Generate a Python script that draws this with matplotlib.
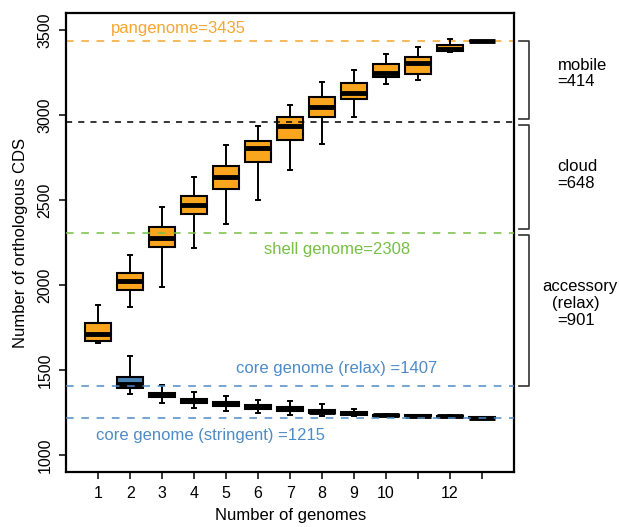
import matplotlib
matplotlib.use("Agg")
import matplotlib.pyplot as plt

plt.rcParams['font.family'] = ['Liberation Sans', 'DejaVu Sans']

# pangenome boxes, 1..13 genomes
pan_pos = [1, 2, 3, 4, 5, 6, 7, 8, 9, 10, 11, 12, 13]
pan_whislo = [1657, 1870, 1990, 2215, 2358, 2498, 2678, 2831, 2989, 3181, 3207, 3373, 3435]
pan_q1 = [1669, 1970, 2221, 2416, 2567, 2725, 2854, 2987, 3093, 3224, 3242, 3377, 3434]
pan_med = [1710, 2023, 2279, 2469, 2635, 2808, 2933, 3050, 3132, 3246, 3308, 3390, 3435]
pan_q3 = [1779, 2072, 2340, 2522, 2698, 2850, 2987, 3103, 3191, 3302, 3343, 3414, 3436]
pan_whishi = [1882, 2178, 2457, 2633, 2821, 2933, 3060, 3195, 3265, 3361, 3398, 3447, 3435]

# core genome boxes, 2..13 genomes
core_pos = [2, 3, 4, 5, 6, 7, 8, 9, 10, 11, 12, 13]
core_whislo = [1356, 1307, 1278, 1260, 1250, 1236, 1231, 1227, 1227, 1223, 1221, 1214]
core_q1 = [1397, 1344, 1307, 1287, 1270, 1256, 1245, 1238, 1232, 1227, 1225, 1216]
core_med = [1415, 1354, 1319, 1298, 1282, 1268, 1255, 1245, 1235, 1230, 1228, 1219]
core_q3 = [1460, 1366, 1331, 1309, 1294, 1280, 1266, 1254, 1238, 1233, 1231, 1222]
core_whishi = [1583, 1411, 1372, 1350, 1325, 1315, 1298, 1270, 1240, 1235, 1233, 1224]

pangenome = 3435
cloud_line = 2956
shell = 2308
core_relax = 1407
core_strict = 1215

x_ticks = [1, 2, 3, 4, 5, 6, 7, 8, 9, 10, 11, 12, 13]
x_labels = ['1', '2', '3', '4', '5', '6', '7', '8', '9', '10', '', '12', '']
y_ticks = [1000, 1500, 2000, 2500, 3000, 3500]

orange = '#F9A61E'
blue = '#4682B4'
orange_txt = '#F5A72E'
green = '#76C044'
blue_txt = '#4F8BC6'


def make_stats(lo, q1, med, q3, hi):
    return [dict(whislo=a, q1=b, med=c, q3=d, whishi=e, fliers=[])
            for a, b, c, d, e in zip(lo, q1, med, q3, hi)]


fig = plt.figure(figsize=(6.19, 5.27), dpi=100)
ax = fig.add_axes([66.3 / 619, 1 - 472 / 527, (514 - 66.3) / 619, (472 - 13) / 527])

box_kw = dict(widths=0.8, capwidths=0.12, patch_artist=True, showfliers=False,
              boxprops=dict(linewidth=1.5, edgecolor='black'),
              medianprops=dict(linewidth=3.5, color='black', solid_capstyle='butt'),
              whiskerprops=dict(linewidth=1.4, color='black'),
              capprops=dict(linewidth=1.4, color='black'))

ax.axhline(pangenome, color=orange_txt, lw=1.1, ls=(0, (5, 5)), zorder=1)

b1 = ax.bxp(make_stats(pan_whislo, pan_q1, pan_med, pan_q3, pan_whishi),
            positions=pan_pos, **box_kw)
for p in b1['boxes']:
    p.set_facecolor(orange)
b2 = ax.bxp(make_stats(core_whislo, core_q1, core_med, core_q3, core_whishi),
            positions=core_pos, **box_kw)
for p in b2['boxes']:
    p.set_facecolor(blue)

ax.axhline(cloud_line, color='black', lw=1.1, ls=(0, (4, 4)), zorder=4)
ax.axhline(shell, color=green, lw=1.1, ls=(0, (5, 5)), zorder=4)
ax.axhline(core_relax, color=blue_txt, lw=1.1, ls=(0, (5, 5)), zorder=4)
ax.axhline(core_strict, color=blue_txt, lw=1.1, ls=(0, (5, 5)), zorder=4)

ax.text(3.5, 3511, 'pangenome=3435', color=orange_txt, fontsize=12, ha='center', va='center')
ax.text(8.47, 2211, 'shell genome=2308', color=green, fontsize=12, ha='center', va='center')
ax.text(8.45, 1506, 'core genome (relax) =1407', color=blue_txt, fontsize=12, ha='center', va='center')
ax.text(4.5, 1113, 'core genome (stringent) =1215', color=blue_txt, fontsize=12, ha='center', va='center')

# brackets on the right side
brackets = [(3435, 2975), (2939, 2327), (2294, 1406)]
for top, bot in brackets:
    ax.plot([14.17, 14.46, 14.46, 14.17], [top, top, bot, bot], color='#333333',
            lw=1.2, clip_on=False)

ax.text(15.36, 3294, 'mobile', fontsize=12, ha='left', va='center')
ax.text(15.36, 3196, '=414', fontsize=12, ha='left', va='center')
ax.text(15.36, 2696, 'cloud', fontsize=12, ha='left', va='center')
ax.text(15.36, 2598, '=648', fontsize=12, ha='left', va='center')
ax.text(14.89, 1990, 'accessory', fontsize=12, ha='left', va='center')
ax.text(15.2, 1894, '(relax)', fontsize=12, ha='left', va='center')
ax.text(15.36, 1794, '=901', fontsize=12, ha='left', va='center')

ax.set_xlim(0, 14)
ax.set_ylim(900, 3600)
ax.set_xticks(x_ticks)
ax.set_xticklabels(x_labels, fontsize=11.5)
ax.set_yticks(y_ticks)
ax.set_yticklabels([str(v) for v in y_ticks], fontsize=11.5, rotation=90, va='center')
ax.tick_params(direction='out', length=5, width=1.1, pad=5)
for s in ax.spines.values():
    s.set_linewidth(1.6)

ax.set_xlabel('Number of genomes', fontsize=12, labelpad=5)
ax.set_ylabel('Number of orthologous CDS', fontsize=12, labelpad=7)

fig.savefig('out.png', dpi=100)
